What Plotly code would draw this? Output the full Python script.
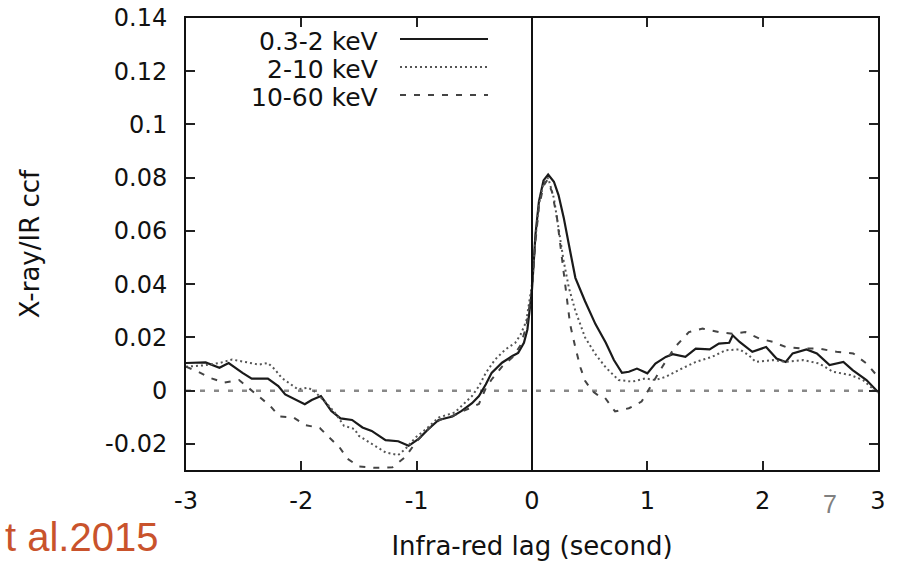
import plotly.graph_objects as go

# ---------------- data ----------------
lag_soft = [-3.00, -2.83, -2.71, -2.63, -2.51, -2.43, -2.29, -2.20, -2.14, -2.06,
            -1.97, -1.91, -1.83, -1.74, -1.66, -1.56, -1.47, -1.39, -1.27, -1.16,
            -1.07, -0.98, -0.90, -0.81, -0.69, -0.61, -0.52, -0.46, -0.40, -0.35,
            -0.26, -0.17, -0.12, -0.07, -0.04, 0.00, 0.03, 0.06, 0.10, 0.14,
            0.19, 0.23, 0.275, 0.32, 0.376, 0.46, 0.55, 0.64, 0.71, 0.78,
            0.84, 0.91, 1.00, 1.07, 1.16, 1.22, 1.33, 1.42, 1.54, 1.62,
            1.71, 1.74, 1.80, 1.91, 2.03, 2.12, 2.20, 2.26, 2.38, 2.47,
            2.58, 2.70, 2.78, 2.90, 3.00]
ccf_soft = [0.0104, 0.0106, 0.0086, 0.0104, 0.0067, 0.0045, 0.0045, 0.0017, -0.0014, -0.0032,
            -0.0051, -0.0035, -0.0020, -0.0076, -0.0104, -0.0110, -0.0138, -0.0151, -0.0186, -0.0190,
            -0.0207, -0.0180, -0.0145, -0.0110, -0.0097, -0.0076, -0.0047, -0.0020, 0.0024, 0.0067,
            0.0105, 0.0130, 0.0142, 0.0180, 0.0230, 0.0380, 0.0586, 0.0710, 0.0790, 0.0812,
            0.0785, 0.0735, 0.0650, 0.0548, 0.0424, 0.0336, 0.0250, 0.0180, 0.0115, 0.0067,
            0.0071, 0.0083, 0.0065, 0.0102, 0.0127, 0.0137, 0.0127, 0.0158, 0.0155, 0.0177,
            0.0180, 0.0208, 0.0183, 0.0146, 0.0164, 0.0121, 0.0108, 0.0140, 0.0155, 0.0140,
            0.0096, 0.0108, 0.0077, 0.0040, -0.0005]

lag_mid = [-3.00, -2.85, -2.70, -2.60, -2.49, -2.37, -2.29, -2.23, -2.17, -2.09,
           -2.03, -1.94, -1.89, -1.80, -1.71, -1.63, -1.54, -1.50, -1.39, -1.27,
           -1.16, -1.10, -1.01, -0.92, -0.81, -0.67, -0.52, -0.46, -0.40, -0.32,
           -0.23, -0.145, -0.10, -0.05, 0.00, 0.03, 0.06, 0.10, 0.14, 0.19,
           0.23, 0.275, 0.32, 0.376, 0.46, 0.55, 0.64, 0.72, 0.75, 0.87,
           0.98, 1.07, 1.16, 1.27, 1.42, 1.56, 1.68, 1.80, 1.88, 1.94,
           2.09, 2.20, 2.35, 2.49, 2.61, 2.76, 2.87, 3.00]
ccf_mid = [0.0090, 0.0095, 0.0105, 0.0117, 0.0108, 0.0098, 0.0104, 0.0080, 0.0048, 0.0024,
           0.0005, 0.0011, -0.0001, -0.0039, -0.0082, -0.0132, -0.0144, -0.0170, -0.0200, -0.0232,
           -0.0242, -0.0220, -0.0176, -0.0145, -0.0101, -0.0082, -0.0020, 0.0017, 0.0067, 0.0117,
           0.0155, 0.0180, 0.0210, 0.0260, 0.0400, 0.0570, 0.0700, 0.0780, 0.0800, 0.0723,
           0.0610, 0.0486, 0.0386, 0.0300, 0.0200, 0.0137, 0.0087, 0.0050, 0.0040, 0.0034,
           0.0046, 0.0040, 0.0052, 0.0077, 0.0108, 0.0127, 0.0152, 0.0155, 0.0133, 0.0108,
           0.0115, 0.0108, 0.0115, 0.0102, 0.0071, 0.0059, 0.0040, -0.0010]

lag_hard = [-3.00, -2.89, -2.79, -2.67, -2.54, -2.46, -2.37, -2.27, -2.19, -2.07,
            -1.97, -1.84, -1.76, -1.67, -1.60, -1.50, -1.36, -1.21, -1.10, -1.00,
            -0.90, -0.80, -0.69, -0.60, -0.52, -0.46, -0.40, -0.35, -0.26, -0.17,
            -0.10, -0.05, 0.00, 0.03, 0.06, 0.10, 0.13, 0.173, 0.217, 0.245,
            0.275, 0.30, 0.33, 0.376, 0.42, 0.46, 0.52, 0.58, 0.63, 0.72,
            0.84, 0.95, 1.04, 1.13, 1.24, 1.36, 1.48, 1.62, 1.74, 1.85,
            1.97, 2.09, 2.20, 2.35, 2.49, 2.64, 2.785, 2.90, 3.00]
ccf_hard = [0.0090, 0.0070, 0.0048, 0.0030, 0.0040, 0.0011, -0.0020, -0.0057, -0.0097, -0.0100,
            -0.0129, -0.0140, -0.0175, -0.0212, -0.0256, -0.0285, -0.0290, -0.0288, -0.0250, -0.0190,
            -0.0145, -0.0110, -0.0095, -0.0078, -0.0060, -0.0050, 0.0010, 0.0042, 0.0090, 0.0125,
            0.0170, 0.0240, 0.0380, 0.0560, 0.0690, 0.0770, 0.0790, 0.0748, 0.0648, 0.0548,
            0.0424, 0.0336, 0.0250, 0.0162, 0.0087, 0.0037, 0.0000, -0.0020, -0.0025, -0.0078,
            -0.0066, -0.0041, 0.0027, 0.0090, 0.0164, 0.0220, 0.0233, 0.0220, 0.0214, 0.0220,
            0.0196, 0.0183, 0.0164, 0.0158, 0.0158, 0.0146, 0.0140, 0.0102, 0.0052]

series_names = ["0.3-2 keV", "2-10 keV", "10-60 keV"]
x_ticks = [-3, -2, -1, 0, 1, 2, 3]
x_tick_text = ["-3", "-2", "-1", "0", "1", "2", "3"]
y_ticks = [-0.02, 0, 0.02, 0.04, 0.06, 0.08, 0.1, 0.12, 0.14]
y_tick_text = ["-0.02", "0", "0.02", "0.04", "0.06", "0.08", "0.1", "0.12", "0.14"]

# ---------------- figure ----------------
FONT = "DejaVu Sans"
W, H = 912, 563
ML, MR, MT, MB = 186, 34, 18, 93

styles = [
    dict(color="#1a1a1a", width=2.2, dash="solid"),
    dict(color="#555555", width=2.0, dash="2px,3px"),
    dict(color="#444444", width=2.0, dash="6px,8px"),
]

fig = go.Figure()
for name, xs, ys, st in zip(series_names, [lag_soft, lag_mid, lag_hard],
                            [ccf_soft, ccf_mid, ccf_hard], styles):
    fig.add_trace(go.Scatter(x=xs, y=ys, mode="lines", name=name,
                             line=dict(color=st["color"], width=st["width"], dash=st["dash"]),
                             showlegend=False))

# zero reference line and zero-lag line
fig.add_shape(type="line", xref="paper", yref="y", x0=0, x1=1, y0=0, y1=0,
              line=dict(color="#888888", width=2.5, dash="5px,9px"), layer="below")
fig.add_shape(type="line", xref="x", yref="paper", x0=0, x1=0, y0=0, y1=1,
              line=dict(color="#111111", width=2))

# custom legend (text right-aligned, sample line on the right)
pw = W - ML - MR
ph = H - MT - MB
def px_x(p):
    return (p - ML) / pw
def px_y(p):
    return (H - MB - p) / ph

leg_rows = [41, 69, 97]
for name, st, ry in zip(series_names, styles, leg_rows):
    fig.add_annotation(xref="paper", yref="paper", x=px_x(380), y=px_y(ry),
                       text=name, showarrow=False, xanchor="right", yanchor="middle",
                       font=dict(family=FONT, size=25, color="#111111"))
    fig.add_shape(type="line", xref="paper", yref="paper",
                  x0=px_x(400), x1=px_x(488), y0=px_y(ry - 2), y1=px_y(ry - 2),
                  line=dict(color=st["color"], width=st["width"], dash=st["dash"]))

# slide fragments
fig.add_annotation(xref="paper", yref="paper", x=px_x(3), y=px_y(537),
                   text="t al.2015", showarrow=False, xanchor="left", yanchor="middle",
                   font=dict(family="Liberation Sans", size=40, color="#C9532C"))
fig.add_annotation(xref="paper", yref="paper", x=px_x(830), y=px_y(504),
                   text="7", showarrow=False, xanchor="center", yanchor="middle",
                   font=dict(family="Liberation Sans", size=25, color="#808080"))

axis_common = dict(showline=True, linecolor="#111111", linewidth=2, mirror="ticks",
                   ticks="inside", ticklen=9, tickwidth=1.5, tickcolor="#222222",
                   showgrid=False, zeroline=False, automargin=False,
                   tickfont=dict(family=FONT, size=24, color="#111111"))

fig.update_layout(
    width=W, height=H,
    margin=dict(l=ML, r=MR, t=MT, b=MB),
    paper_bgcolor="white", plot_bgcolor="white",
    xaxis=dict(range=[-3, 3], tickvals=x_ticks, ticktext=x_tick_text,
               ticklabelstandoff=8,
               title=dict(text="Infra-red lag (second)", standoff=23,
                          font=dict(family=FONT, size=26, color="#111111")),
               **axis_common),
    yaxis=dict(range=[-0.0298, 0.14], tickvals=y_ticks, ticktext=y_tick_text,
               ticklabelstandoff=12,
               title=dict(text="X-ray/IR ccf", standoff=58,
                          font=dict(family=FONT, size=26, color="#111111")),
               **axis_common),
)

fig.write_html("out.html")
